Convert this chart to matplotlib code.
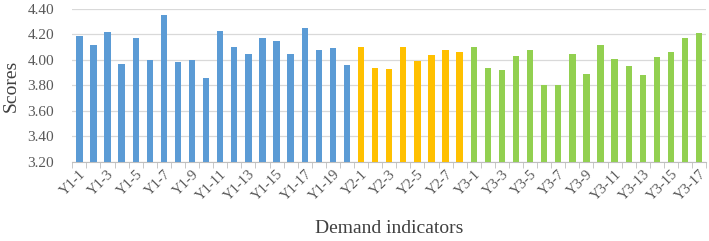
import matplotlib.pyplot as plt
import numpy as np

# 数据
y1_scores = [4.19, 4.12, 4.22, 3.97, 4.17, 4.00, 4.35, 3.98, 4.00, 3.86,
             4.23, 4.10, 4.05, 4.17, 4.15, 4.05, 4.25, 4.08, 4.09, 3.96]
y2_scores = [4.10, 3.94, 3.93, 4.10, 3.99, 4.04, 4.08, 4.06]
y3_scores = [4.10, 3.94, 3.92, 4.03, 4.08, 3.80, 3.80, 4.05, 3.89, 4.12,
             4.01, 3.95, 3.88, 4.02, 4.06, 4.17, 4.21]

y1_labels = [f"Y1-{i}" for i in range(1, len(y1_scores) + 1)]
y2_labels = [f"Y2-{i}" for i in range(1, len(y2_scores) + 1)]
y3_labels = [f"Y3-{i}" for i in range(1, len(y3_scores) + 1)]

colors = ["#5B9BD5", "#FFC000", "#92D050"]

plt.rcParams["font.family"] = ["Liberation Serif", "DejaVu Serif"]

fig = plt.figure(figsize=(7.09, 2.41), dpi=100)
ax = fig.add_axes([0.102, 0.328, 0.894, 0.635])

labels = y1_labels + y2_labels + y3_labels
start = 0
for scores, c in zip([y1_scores, y2_scores, y3_scores], colors):
    x = np.arange(start, start + len(scores))
    ax.bar(x, scores, width=0.45, color=c, zorder=3)
    start += len(scores)

n = len(labels)
ax.set_xlim(-0.5, n - 0.5)
ax.set_ylim(3.2, 4.4)
ax.set_yticks(np.arange(3.2, 4.41, 0.2))
ax.set_yticklabels([f"{v:.2f}" for v in np.arange(3.2, 4.41, 0.2)])
ax.grid(axis="y", color="#d9d9d9", linewidth=0.9, zorder=0)

ax.set_xticks(np.arange(0, n, 2))
ax.set_xticklabels(labels[::2], rotation=45, ha="right", rotation_mode="anchor")
ax.set_xticks(np.arange(-0.5, n, 1), minor=True)
ax.tick_params(axis="x", which="major", length=0, pad=4, labelsize=10.5, colors="#595959")
ax.tick_params(axis="x", which="minor", length=4, color="#bfbfbf")
ax.tick_params(axis="y", length=0, pad=13, labelsize=11, colors="#595959")

for s in ["top", "right", "left"]:
    ax.spines[s].set_visible(False)
ax.spines["bottom"].set_color("#bfbfbf")

ax.set_ylabel("Scores", fontsize=14, color="#404040", labelpad=6)
ax.set_xlabel("Demand indicators", fontsize=14, color="#404040", labelpad=12)

plt.savefig("out.png", dpi=100)
